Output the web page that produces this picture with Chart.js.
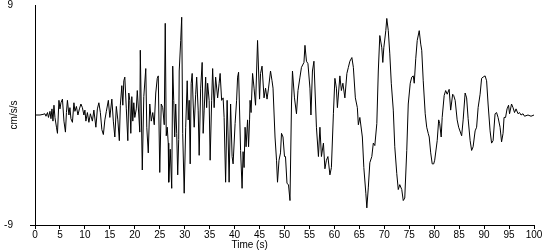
<!DOCTYPE html>
<html><head><meta charset="utf-8">
<script src="https://cdn.jsdelivr.net/npm/chart.js@4/dist/chart.umd.min.js"></script>
<style>html,body{margin:0;padding:0;background:#fff}</style>
</head><body>
<canvas id="c" width="550" height="250"></canvas>
<script>
// Time (s)
const times = [
  0,1.0,1.6,2.0,2.2,2.5,2.7,3.0,3.2,3.4,3.6,3.8,4.0,4.3,4.5,4.8,5.0,5.2,5.5,5.8,6.1,6.3,6.5,6.8,7.0,7.2,7.5,7.8,8.0,8.3,8.6,8.9,9.2,9.5,9.8,
  10.0,10.2,10.5,10.8,11.1,11.5,11.8,12.2,12.5,12.8,13.1,13.4,13.7,14.0,14.3,14.7,15.0,15.4,15.7,16.0,16.3,16.6,16.9,17.1,17.4,17.6,17.8,18.0,18.3,18.6,18.8,19.0,19.2,19.4,19.6,19.8,
  20.0,20.3,20.5,20.8,21.0,21.1,21.5,21.8,22.2,22.4,22.7,23.0,23.3,23.6,23.9,24.2,24.5,24.7,25.0,25.3,25.6,25.9,26.1,26.3,26.5,26.7,26.8,27.1,27.4,27.6,27.8,28.0,28.2,28.4,28.6,28.8,28.9,29.2,29.4,29.6,29.9,
  30.2,30.5,30.7,30.9,31.1,31.3,31.5,31.7,31.9,32.2,32.4,32.7,32.9,33.2,33.5,33.7,33.9,34.2,34.4,34.6,34.9,35.1,35.4,35.6,35.9,36.2,36.6,36.9,37.1,37.4,37.7,37.9,38.2,38.5,38.7,38.9,39.2,39.5,39.7,
  40.1,40.4,40.6,40.8,41.2,41.5,41.7,41.9,42.1,42.3,42.6,42.8,43.0,43.1,43.3,43.6,43.9,44.2,44.6,45.0,45.2,45.5,45.9,46.2,46.5,46.8,47.2,47.5,47.7,48.1,48.4,48.6,48.9,49.2,49.4,49.7,
  50.0,50.2,50.5,50.8,51.1,51.4,51.6,52.0,52.4,52.7,53.1,53.4,53.9,54.1,54.4,54.7,55.1,55.3,55.6,55.9,56.4,56.8,57.1,57.4,57.8,58.1,58.4,58.7,59.1,59.4,59.8,
  60.1,60.4,60.6,61.1,61.4,61.7,62.1,62.5,62.8,63.1,63.5,63.8,64.2,64.6,64.8,65.1,65.6,65.9,66.3,66.5,66.8,67.1,67.5,67.8,68.1,68.5,68.8,69.1,69.5,69.7,69.9,
  70.3,70.5,70.8,71.1,71.4,71.8,72.1,72.5,72.8,73.1,73.5,73.8,74.1,74.5,74.8,75.2,75.5,75.8,76.0,76.3,76.6,77.0,77.3,77.5,77.8,78.2,78.5,78.8,79.0,79.3,79.6,79.9,
  80.1,80.6,80.9,81.1,81.4,81.6,82.0,82.3,82.6,83.0,83.3,83.7,83.9,84.2,84.6,84.9,85.5,85.8,86.2,86.5,86.8,87.2,87.5,87.8,88.2,88.5,88.8,89.2,89.5,89.8,
  90.2,90.5,90.8,91.2,91.5,91.8,92.2,92.5,92.8,93.2,93.5,93.8,94.0,94.3,94.6,94.9,95.1,95.5,95.8,96.1,96.4,96.8,97.1,97.4,97.8,98.1,98.8,99.4,100
];
// Acceleration (cm/s/s)
const accel = [
  0,0,0.05,0.1,-0.1,0.2,-0.2,0.3,-0.3,0.5,-0.5,0.8,-0.2,-1.0,-1.5,1.2,0.5,1.0,1.3,-0.5,-1.4,0.2,1.2,0.0,0.6,-0.3,-0.6,1.0,0.3,0.7,0.0,0.5,0.9,0.6,0.0,
  0.4,-0.5,0.2,-0.6,0.1,-0.5,0.4,-1.0,0.5,1.0,0.2,-1.2,-1.6,-0.4,0.3,1.2,-0.2,1.3,-0.5,-1.8,0.7,-0.4,-2.1,0.8,2.4,0.8,2.8,3.1,0.5,-2.1,1.8,1.2,-1.5,1.5,-0.5,1.0,
  -0.2,0.5,2.0,0.0,-1.4,5.3,-4.5,1.5,3.8,-1.0,-3.1,0.9,-0.5,0.2,-0.8,1.8,3.0,3.2,-4.7,0.9,0.6,-0.8,7.5,-1.7,-1.0,-2.3,-5.5,-2.8,-6.0,4.0,1.2,-1.8,0.9,-1.5,-4.9,-2.0,3.6,6.1,8.0,-1.5,-6.4,
  -1.0,2.8,-0.4,1.2,-4.0,2.6,3.4,0.9,-1.0,1.7,3.1,0.4,-3.3,2.2,4.3,-1.5,0.4,3.1,0.6,2.6,1.2,-3.7,1.2,3.8,0.6,3.1,1.4,2.6,3.4,1.2,1.4,-0.2,-5.5,1.2,-1.8,-5.5,0.9,-3.4,-4.0,
  -0.7,1.2,3.1,3.5,-2.9,-6.0,-3.0,-4.3,-1.0,-2.6,-0.4,-2.6,-0.4,1.2,0.2,3.4,2.2,0.8,6.1,1.3,3.4,4.0,1.4,2.2,1.3,2.2,3.6,2.8,2.2,-1.8,-3.7,-5.5,-3.7,-3.1,-1.5,-1.8,
  -3.4,-3.4,-5.6,-5.7,-7.0,0.9,3.6,1.4,0.1,2.0,3.1,3.9,4.3,5.7,4.4,4.2,2.2,0.0,3.6,4.4,-1.0,-3.4,-1.0,-3.4,-2.3,-4.4,-3.7,-3.4,-4.9,-4.3,0.1,
  3.0,2.2,0.6,3.2,2.0,2.6,1.4,3.4,3.9,4.4,4.7,3.9,1.4,0.6,-0.8,-0.2,-1.8,-4.3,-6.4,-7.6,-5.9,-3.9,-3.4,-2.3,-2.5,-0.7,3.6,6.5,5.5,4.3,5.5,
  6.9,7.9,6.9,5.0,2.6,0.4,-2.6,-4.8,-6.1,-5.7,-6.1,-7.0,-6.8,-2.9,0.9,2.6,3.1,3.2,2.6,4.6,6.1,6.9,5.8,5.3,2.8,0.1,-1.0,-1.5,-1.8,-3.1,-4.0,-4.0,
  -3.7,-2.1,-0.4,-0.7,-1.8,-0.2,1.6,2.0,1.7,2.1,0.4,1.7,1.6,1.2,-0.4,-1.0,-1.7,-0.4,1.8,1.4,-0.3,-2.1,-2.9,-2.6,-1.3,-1.0,0.6,1.7,3.0,3.1,
  3.2,2.8,0.9,-1.3,-2.3,-2.1,0.1,0.2,-0.2,-1.0,-2.2,-1.5,-0.2,-0.2,0.5,0.8,0.1,0.9,0.6,0.2,0.5,0.1,0.2,0.0,0.1,-0.1,0.0,-0.1,0.0
];
const xTicks = [0,5,10,15,20,25,30,35,40,45,50,55,60,65,70,75,80,85,90,95,100];
const yTicks = [-9, 9];
const xTitle = 'Time (s)';
const yTitle = 'cm/s/s';

const FONT = {family: "'Liberation Sans', Arial, sans-serif", size: 10};

const xTitlePlugin = {
  id: 'xTitlePlugin',
  afterDraw(chart) {
    const ctx = chart.ctx;
    const area = chart.chartArea;
    ctx.save();
    ctx.font = "10px 'Liberation Sans', Arial, sans-serif";
    ctx.fillStyle = '#000';
    ctx.textAlign = 'center';
    ctx.textBaseline = 'middle';
    ctx.fillText(xTitle, area.left + (area.right - area.left) * 0.43, 245);
    ctx.restore();
  }
};

new Chart(document.getElementById('c'), {
  type: 'line',
  data: {
    datasets: [{
      data: times.map((t, i) => ({x: t, y: accel[i]})),
      borderColor: '#000',
      borderWidth: 1,
      pointRadius: 0,
      tension: 0,
      fill: false
    }]
  },
  options: {
    responsive: false,
    animation: false,
    devicePixelRatio: 1,
    layout: {padding: {left: 0, right: 16, top: 5, bottom: 0}},
    plugins: {legend: {display: false}, tooltip: {enabled: false}},
    scales: {
      x: {
        type: 'linear', min: 0, max: 100,
        afterBuildTicks: s => { s.ticks = xTicks.map(v => ({value: v})); },
        grid: {display: true, drawOnChartArea: false, drawTicks: true, tickLength: 4, color: '#000'},
        border: {display: true, color: '#000', width: 1},
        ticks: {padding: 0, color: '#000', font: FONT, maxRotation: 0, autoSkip: false},
        afterFit: s => { s.height = 25; }
      },
      y: {
        type: 'linear', min: -9, max: 9,
        afterBuildTicks: s => { s.ticks = yTicks.map(v => ({value: v})); },
        grid: {display: true, drawOnChartArea: false, drawTicks: true, tickLength: 5,
               color: c => (c.tick && c.tick.value === -9) ? '#000' : 'rgba(0,0,0,0)'},
        border: {display: true, color: '#000', width: 1},
        ticks: {padding: 17, color: '#000', font: FONT},
        title: {display: true, text: yTitle, color: '#000', font: FONT, padding: {top: 8, bottom: 0}},
        afterFit: s => { s.width = 35; s.paddingTop = 0; s.paddingBottom = 0; }
      }
    }
  },
  plugins: [xTitlePlugin]
});
</script>
</body></html>
